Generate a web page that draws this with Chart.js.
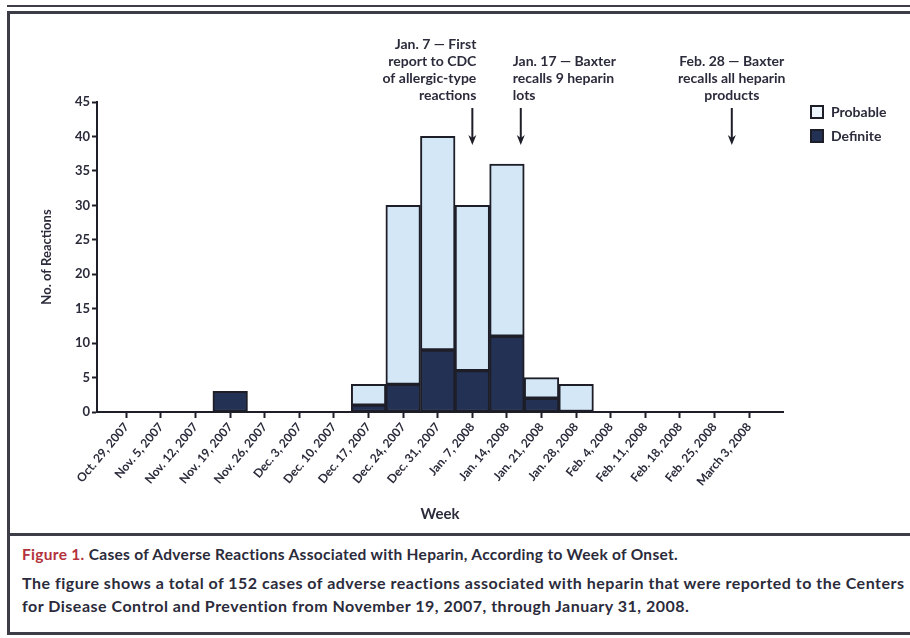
<!DOCTYPE html>
<html>
<head>
<meta charset="utf-8">
<script src="https://cdn.jsdelivr.net/npm/chart.js@4.4.0/dist/chart.umd.min.js"></script>
<style>
  html, body { margin: 0; padding: 0; background: #fff; }
  body { width: 910px; height: 638px; position: relative; overflow: hidden; font-family: Lato, "DejaVu Sans", sans-serif; }
  #wrap { position: absolute; left: 0; top: 0; width: 910px; height: 530px; }
  .rule { position: absolute; background: #3d3d47; }
  #caption { position: absolute; left: 22px; top: 543px; color: #2b2b3b; font-weight: 700; white-space: nowrap; }
  #caption .t1 { font-size: 15.5px; letter-spacing: 0.3px; line-height: 22px; margin: 0 0 6px 0; }
  #caption .t1 span { color: #b3323d; }
  #caption .t2 { font-size: 16px; letter-spacing: 0.5px; line-height: 23px; margin: 0; }
</style>
</head>
<body>
<div class="rule" style="left:7px;top:5px;width:903px;height:2px"></div>
<div class="rule" style="left:7px;top:11px;width:903px;height:3px"></div>
<div class="rule" style="left:7px;top:11px;width:3px;height:624px"></div>
<div class="rule" style="left:7px;top:533px;width:903px;height:3px"></div>
<div class="rule" style="left:7px;top:632px;width:903px;height:3px"></div>

<div id="wrap"><canvas id="chart"></canvas></div>

<div id="caption">
  <p class="t1"><span>Figure 1.</span> Cases of Adverse Reactions Associated with Heparin, According to Week of Onset.</p>
  <p class="t2">The figure shows a total of 152 cases of adverse reactions associated with heparin that were reported to the Centers<br>for Disease Control and Prevention from November 19, 2007, through January 31, 2008.</p>
</div>

<script>
// week of onset
var weeks = ['Oct. 29, 2007', 'Nov. 5, 2007', 'Nov. 12, 2007', 'Nov. 19, 2007', 'Nov. 26, 2007',
  'Dec. 3, 2007', 'Dec. 10, 2007', 'Dec. 17, 2007', 'Dec. 24, 2007', 'Dec. 31, 2007',
  'Jan. 7, 2008', 'Jan. 14, 2008', 'Jan. 21, 2008', 'Jan. 28, 2008', 'Feb. 4, 2008',
  'Feb. 11, 2008', 'Feb. 18, 2008', 'Feb. 25, 2008', 'March 3, 2008'];

var definite = [0, 0, 0, 3, 0, 0, 0, 1, 4, 9, 6, 11, 2, 0, 0, 0, 0, 0, 0];
var probable = [0, 0, 0, 0, 0, 0, 0, 3, 26, 31, 24, 25, 3, 4, 0, 0, 0, 0, 0];

// events marked with arrows (position in weeks from Oct. 29)
var noteWeeks = [10, 11.4, 17.5];
var noteAlign = ['right', 'left', 'center'];
var noteText = [
  ['Jan. 7 \u2014 First', 'report to CDC', 'of allergic-type', 'reactions'],
  ['Jan. 17 \u2014 Baxter', 'recalls 9 heparin', 'lots'],
  ['Feb. 28 \u2014 Baxter', 'recalls all heparin', 'products']
];

var ink = '#2b2b3b';
var lineInk = '#1e1e28';

Chart.defaults.font.family = "Lato, 'DejaVu Sans', sans-serif";
Chart.defaults.color = ink;

function points(arr) {
  return arr.map(function (v, i) { return { x: i, y: v || null }; });
}

const notes = {
  id: 'notes',
  afterDraw(chart) {
    const ctx = chart.ctx;
    const area = chart.chartArea;
    const xs = chart.scales.x;
    ctx.save();
    ctx.fillStyle = ink;
    ctx.strokeStyle = lineInk;
    ctx.font = "bold 14px Lato, 'DejaVu Sans', sans-serif";
    ctx.textBaseline = 'middle';

    noteWeeks.forEach(function (w, k) {
      const px = xs.getPixelForValue(w);
      const lines = noteText[k];
      const align = noteAlign[k];
      let tx = px;
      if (align === 'right') tx = px + 4;
      if (align === 'left') tx = px - 8;
      ctx.textAlign = align;
      ctx.fillStyle = ink;
      lines.forEach(function (t, j) {
        ctx.fillText(t, tx, area.top - 7 - (lines.length - 1 - j) * 16.7);
      });
      // arrow
      const y0 = area.top + 6, y1 = area.top + 43;
      ctx.lineWidth = 2;
      ctx.beginPath();
      ctx.moveTo(px, y0);
      ctx.lineTo(px, y1 - 6);
      ctx.stroke();
      ctx.fillStyle = lineInk;
      ctx.beginPath();
      ctx.moveTo(px - 4, y1 - 10);
      ctx.lineTo(px, y1 - 7);
      ctx.lineTo(px + 4, y1 - 10);
      ctx.lineTo(px, y1);
      ctx.closePath();
      ctx.fill();
    });

    // legend, probable on top
    const sets = chart.data.datasets.slice().reverse();
    sets.forEach(function (ds, i) {
      const bx = area.right + 28, by = area.top + 4 + i * 24;
      ctx.fillStyle = i === 0 ? '#eef5fc' : ds.backgroundColor;
      ctx.fillRect(bx, by, 12, 12);
      ctx.lineWidth = 2;
      ctx.strokeStyle = lineInk;
      ctx.strokeRect(bx, by, 12, 12);
      ctx.fillStyle = ink;
      ctx.textAlign = 'left';
      ctx.fillText(ds.label, bx + 20, by + 6);
    });
    ctx.restore();
  }
};

const tickGrid = {
  display: true,
  drawOnChartArea: false,
  drawTicks: true,
  tickLength: 6,
  tickWidth: 2,
  tickColor: lineInk,
  offset: false
};

const chart = new Chart(document.getElementById('chart'), {
  type: 'bar',
  data: {
    datasets: [
      {
        label: 'Definite',
        data: points(definite),
        backgroundColor: '#223154',
        borderColor: lineInk,
        borderWidth: 2,
        borderSkipped: false,
        barPercentage: 1,
        categoryPercentage: 1
      },
      {
        label: 'Probable',
        data: points(probable),
        backgroundColor: '#d4e7f7',
        borderColor: lineInk,
        borderWidth: 2,
        borderSkipped: false,
        barPercentage: 1,
        categoryPercentage: 1
      }
    ]
  },
  options: {
    responsive: true,
    maintainAspectRatio: false,
    animation: false,
    layout: { padding: { top: 102, right: 127, bottom: 3, left: 35 } },
    plugins: {
      legend: { display: false },
      tooltip: { enabled: false }
    },
    scales: {
      x: {
        type: 'linear',
        min: -0.85,
        max: 18.98,
        stacked: true,
        offset: false,
        grid: tickGrid,
        border: { display: true, color: lineInk, width: 2 },
        ticks: {
          stepSize: 1,
          includeBounds: false,
          autoSkip: false,
          minRotation: 50,
          maxRotation: 50,
          padding: 2,
          color: ink,
          font: { size: 12, weight: 'bold' },
          callback: function (v) { return weeks[v] !== undefined ? weeks[v] : ''; }
        },
        title: {
          display: true,
          text: 'Week',
          color: ink,
          font: { size: 15, weight: 'bold' },
          padding: { top: 4, bottom: 4 }
        },
        afterFit: function (s) { s.height = 115; }
      },
      y: {
        min: 0,
        max: 45,
        stacked: true,
        grid: Object.assign({}, tickGrid, { tickLength: 5 }),
        border: { display: true, color: lineInk, width: 2 },
        ticks: {
          stepSize: 5,
          padding: 2,
          color: ink,
          font: { size: 13, weight: 'bold' }
        },
        title: {
          display: true,
          text: 'No. of Reactions',
          color: ink,
          font: { size: 13, weight: 'bold' },
          padding: { top: 4, bottom: 4 }
        },
        afterFit: function (s) { s.width = 62; }
      }
    }
  },
  plugins: [notes]
});
</script>
</body>
</html>
